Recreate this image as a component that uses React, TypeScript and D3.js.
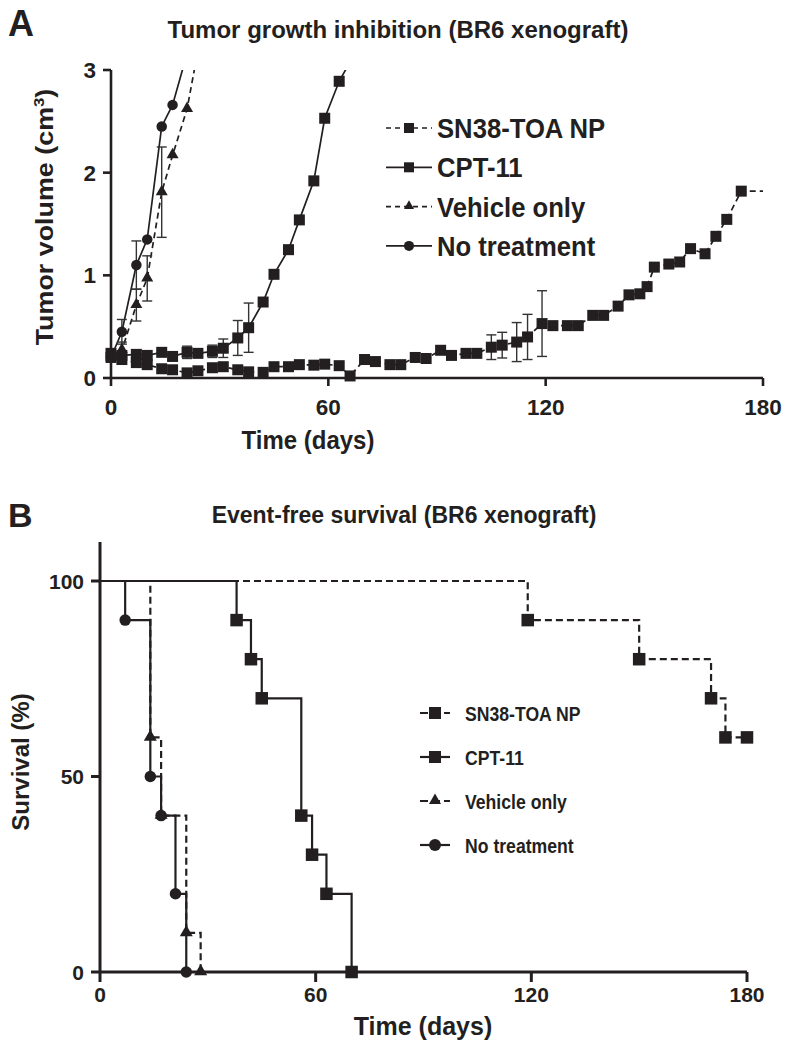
import React from "react";
import * as d3 from "d3";

// ---------- Panel A data (tumor volume, cm3) ----------
const sn38Days = [0,3,7,10,14,17,21,24,28,31,35,38,42,45,49,52,56,59,63,66,70,73,77,80,84,87,91,94,98,101,105,108,112,115,119,122,126,129,133,136,140,143,146,148,150,154,157,160,164,167,170,174];
const sn38Vol = [0.20,0.18,0.15,0.13,0.09,0.08,0.05,0.07,0.10,0.11,0.08,0.06,0.055,0.11,0.11,0.13,0.125,0.135,0.12,0.02,0.18,0.16,0.13,0.13,0.20,0.19,0.27,0.22,0.24,0.24,0.30,0.32,0.35,0.40,0.53,0.51,0.51,0.51,0.61,0.61,0.70,0.81,0.82,0.89,1.08,1.11,1.13,1.26,1.21,1.38,1.545,1.82];
const sn38Err = [0,0,0,0,0,0,0,0,0,0,0,0,0,0,0,0,0,0,0,0,0,0,0,0,0,0,0,0,0,0,0.12,0.125,0.19,0.22,0.32,0,0,0,0,0,0,0,0,0,0,0,0,0,0,0,0,0];
const sn38TailDay = 180;

const cptDays = [0,3,7,10,14,17,21,24,28,31,35,38,42,45,49,52,56,59,63,66];
const cptVol = [0.24,0.22,0.23,0.22,0.25,0.21,0.25,0.24,0.26,0.29,0.39,0.49,0.74,1.01,1.25,1.54,1.92,2.53,2.89,3.08];
const cptErr = [0,0,0,0,0,0,0.06,0,0.06,0.09,0.17,0.24,0,0,0,0,0,0,0,0];

const vehDays = [0,3,7,10,14,17,21,24];
const vehVol = [0.20,0.27,0.71,0.97,1.81,2.17,2.62,3.19];
const vehErr = [0,0.08,0.155,0.22,0.44,0,0,0];

const noTxDays = [0,3,7,10,14,17,21];
const noTxVol = [0.20,0.45,1.10,1.35,2.45,2.66,3.16];
const noTxErr = [0,0.12,0.235,0,0,0,0];

const ticksAx = [0, 60, 120, 180];
const ticksAy = [0, 1, 2, 3];

// ---------- Panel B data (event-free survival, %) ----------
const kmSn38T = [119, 150, 170, 174, 180];
const kmSn38S = [90, 80, 70, 60, 60];
const kmCptT = [38, 42, 45, 56, 59, 63, 70];
const kmCptS = [90, 80, 70, 40, 30, 20, 0];
const kmVehT = [14, 17, 24, 28];
const kmVehS = [60, 40, 10, 0];
const kmNoTxT = [7, 14, 17, 21, 24];
const kmNoTxS = [90, 50, 40, 20, 0];

const ticksBx = [0, 60, 120, 180];
const ticksBy = [0, 50, 100];

const legendLabels = ["SN38-TOA NP", "CPT-11", "Vehicle only", "No treatment"];
const legendShapes = ["square", "square", "triangle", "circle"];
const legendDashed = [true, false, true, false];

const INK = "#231f20";
const FONT = "'Liberation Sans', Arial, Helvetica, sans-serif";

function Marker({ shape, x, y, s }: { shape: string; x: number; y: number; s: number }) {
  if (shape === "square") return <rect x={x - s / 2} y={y - s / 2} width={s} height={s} fill={INK} />;
  if (shape === "circle") return <circle cx={x} cy={y} r={s / 2} fill={INK} />;
  const area = (Math.sqrt(3) / 4) * s * s;
  const p = d3.symbol().type(d3.symbolTriangle).size(area)() as string;
  return <path d={p} transform={`translate(${x},${y - 0.5})`} fill={INK} />;
}

function Txt(props: any) {
  const { x, y, size, anchor = "middle", sx = 1, sy = 1, rot = 0, weight = "bold", children } = props;
  return (
    <text
      transform={`translate(${x},${y}) rotate(${rot}) scale(${sx},${sy})`}
      fontSize={size}
      fontFamily={FONT}
      fontWeight={weight}
      textAnchor={anchor}
      fill={INK}
    >
      {children}
    </text>
  );
}

function PanelA() {
  const x = d3.scaleLinear().domain([0, 180]).range([111, 763]);
  const y = d3.scaleLinear().domain([0, 3]).range([378, 70]);
  const line = d3.line<[number, number]>().x((d) => x(d[0])).y((d) => y(d[1]));

  const series = [
    { days: noTxDays, vol: noTxVol, err: noTxErr, shape: "circle", dashed: false, size: 10.5 },
    { days: vehDays, vol: vehVol, err: vehErr, shape: "triangle", dashed: true, size: 12 },
    { days: cptDays, vol: cptVol, err: cptErr, shape: "square", dashed: false, size: 11 },
    { days: sn38Days, vol: sn38Vol, err: sn38Err, shape: "square", dashed: true, size: 11 },
  ];

  return (
    <g>
      <defs>
        <clipPath id="clipA">
          <rect x={95} y={70} width={690} height={330} />
        </clipPath>
      </defs>
      <Txt x={8} y={36} size={36} anchor="start">A</Txt>
      <Txt x={398} y={38} size={24} anchor="middle">Tumor growth inhibition (BR6 xenograft)</Txt>

      <line x1={x(0)} x2={x(0)} y1={y(3)} y2={y(0)} stroke={INK} strokeWidth={2.6} />
      <line x1={x(0)} x2={x(180)} y1={y(0)} y2={y(0)} stroke={INK} strokeWidth={2.6} />
      {ticksAy.map((t) => (
        <g key={"ay" + t}>
          <line x1={x(0) - 8} x2={x(0)} y1={y(t)} y2={y(t)} stroke={INK} strokeWidth={2.6} />
          <Txt x={96} y={y(t) + 8} size={22.5} anchor="end">{t}</Txt>
        </g>
      ))}
      {ticksAx.map((t) => (
        <g key={"ax" + t}>
          <line x1={x(t)} x2={x(t)} y1={y(0)} y2={y(0) + 8} stroke={INK} strokeWidth={2.6} />
          <Txt x={x(t)} y={415} size={22.5} anchor="middle">{t}</Txt>
        </g>
      ))}
      <Txt x={308} y={449} size={24} anchor="middle" sy={1.1}>Time (days)</Txt>
      <Txt x={53} y={217} size={24} anchor="middle" rot={-90} sx={1.12}>
        Tumor volume (cm<tspan dy={-9} fontSize={15}>3</tspan><tspan dy={9}>)</tspan>
      </Txt>

      <g clipPath="url(#clipA)">
        {series.map((s, i) => {
          const pts: [number, number][] = s.days.map((d, j) => [d, s.vol[j]]);
          if (i === 3) pts.push([sn38TailDay, sn38Vol[sn38Vol.length - 1]]);
          return (
            <path
              key={"l" + i}
              d={line(pts) as string}
              fill="none"
              stroke={INK}
              strokeWidth={1.7}
              strokeDasharray={s.dashed ? "6,4" : undefined}
            />
          );
        })}
        {series.map((s, i) =>
          s.days.map((d, j) =>
            s.err[j] > 0 ? (
              <g key={`e${i}-${j}`} stroke="#333" strokeWidth={1.4}>
                <line x1={x(d)} x2={x(d)} y1={y(s.vol[j] + s.err[j])} y2={y(s.vol[j] - s.err[j])} />
                <line x1={x(d) - 5} x2={x(d) + 5} y1={y(s.vol[j] + s.err[j])} y2={y(s.vol[j] + s.err[j])} />
                <line x1={x(d) - 5} x2={x(d) + 5} y1={y(s.vol[j] - s.err[j])} y2={y(s.vol[j] - s.err[j])} />
              </g>
            ) : null
          )
        )}
        {series.map((s, i) =>
          s.days.map((d, j) => <Marker key={`m${i}-${j}`} shape={s.shape} x={x(d)} y={y(s.vol[j])} s={s.size} />)
        )}
      </g>

      {legendLabels.map((lab, i) => {
        const cy = 128 + i * 39.3;
        return (
          <g key={"lgA" + i}>
            <line x1={386} x2={432} y1={cy} y2={cy} stroke={INK} strokeWidth={1.7} strokeDasharray={legendDashed[i] ? "5,4" : undefined} />
            <Marker shape={legendShapes[i]} x={409} y={cy} s={10} />
            <Txt x={437} y={cy + 10} size={28.5} anchor="start" sx={0.9}>{lab}</Txt>
          </g>
        );
      })}
    </g>
  );
}

function PanelB() {
  const x = d3.scaleLinear().domain([0, 180]).range([100, 747]);
  const y = d3.scaleLinear().domain([0, 110]).range([972, 541.9]);
  const step = d3.line<[number, number]>().x((d) => x(d[0])).y((d) => y(d[1])).curve(d3.curveStepAfter);

  const series = [
    { t: kmNoTxT, s: kmNoTxS, shape: "circle", dashed: false, size: 11.5 },
    { t: kmVehT, s: kmVehS, shape: "triangle", dashed: true, size: 13 },
    { t: kmCptT, s: kmCptS, shape: "square", dashed: false, size: 12.5 },
    { t: kmSn38T, s: kmSn38S, shape: "square", dashed: true, size: 12.5 },
  ];

  return (
    <g>
      <Txt x={8} y={527} size={34} anchor="start">B</Txt>
      <Txt x={404} y={523} size={23} anchor="middle">Event-free survival (BR6 xenograft)</Txt>

      <line x1={x(0)} x2={x(0)} y1={y(110)} y2={y(0)} stroke={INK} strokeWidth={3} />
      <line x1={x(0)} x2={x(180)} y1={y(0)} y2={y(0)} stroke={INK} strokeWidth={3} />
      {ticksBy.map((t) => (
        <g key={"by" + t}>
          <line x1={x(0) - 9} x2={x(0)} y1={y(t)} y2={y(t)} stroke={INK} strokeWidth={3} />
          <Txt x={84} y={y(t) + 7.5} size={21} anchor="end">{t}</Txt>
        </g>
      ))}
      {ticksBx.map((t) => (
        <g key={"bx" + t}>
          <line x1={x(t)} x2={x(t)} y1={y(0)} y2={y(0) + 10} stroke={INK} strokeWidth={3} />
          <Txt x={x(t)} y={1002} size={21} anchor="middle">{t}</Txt>
        </g>
      ))}
      <Txt x={423} y={1035} size={25} anchor="middle">Time (days)</Txt>
      <Txt x={29} y={762} size={24} anchor="middle" rot={-90}>Survival (%)</Txt>

      {series.map((s, i) => {
        const pts: [number, number][] = [[0, 100], ...s.t.map((t, j) => [t, s.s[j]] as [number, number])];
        return (
          <path
            key={"kl" + i}
            d={step(pts) as string}
            fill="none"
            stroke={INK}
            strokeWidth={2.2}
            strokeDasharray={s.dashed ? "7,4" : undefined}
          />
        );
      })}
      {series.map((s, i) =>
        s.t.map((t, j) => <Marker key={`km${i}-${j}`} shape={s.shape} x={x(t)} y={y(s.s[j])} s={s.size} />)
      )}

      {legendLabels.map((lab, i) => {
        const cy = 713 + i * 44;
        return (
          <g key={"lgB" + i}>
            <line x1={420} x2={450} y1={cy} y2={cy} stroke={INK} strokeWidth={2.2} strokeDasharray={legendDashed[i] ? "8,4" : undefined} />
            <Marker shape={legendShapes[i]} x={435} y={cy} s={12} />
            <Txt x={465} y={cy + 8} size={21} anchor="start" sx={0.84}>{lab}</Txt>
          </g>
        );
      })}
    </g>
  );
}

export default function App() {
  return (
    <svg
      width={791}
      height={1050}
      viewBox="0 0 791 1050"
      style={{ position: "absolute", left: 0, top: 0, background: "#fff" }}
    >
      <rect width={791} height={1050} fill="#fff" />
      <PanelA />
      <PanelB />
    </svg>
  );
}
